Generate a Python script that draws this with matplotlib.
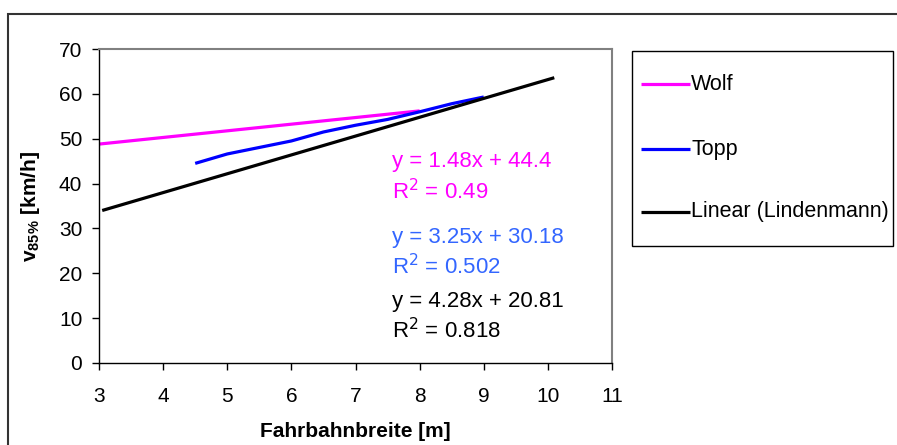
import matplotlib
matplotlib.use("Agg")
import matplotlib.pyplot as plt
from matplotlib.patches import Rectangle
from matplotlib.lines import Line2D

plt.rcParams['font.family'] = ['Liberation Sans', 'DejaVu Sans']

# data
wolf_x = [3.0, 8.0]
wolf_y = [48.8, 56.2]
topp_x = [4.5, 5.0, 6.0, 6.5, 7.0, 7.5, 8.0, 8.5, 9.0]
topp_y = [44.5, 46.6, 49.5, 51.5, 53.0, 54.3, 56.0, 57.8, 59.3]
lind_x = [3.05, 10.1]
lind_y = [34.0, 63.6]
labels = ["Wolf", "Topp", "Linear (Lindenmann)"]
line_colors = ["#FF00FF", "#0000FF", "black"]
eq_texts = [("y = 1.48x + 44.4", "R$^2$ = 0.49"),
            ("y = 3.25x + 30.18", "R$^2$ = 0.502"),
            ("y = 4.28x + 20.81", "R$^2$ = 0.818")]
eq_colors = ["#FF00FF", "#3366FF", "black"]

W, H = 897, 445
fig = plt.figure(figsize=(W / 100, H / 100), dpi=100)
ax = fig.add_axes([99 / W, 1 - 363 / H, (612 - 99) / W, (363 - 49) / H])

for xs, ys, c in zip([wolf_x, topp_x, lind_x], [wolf_y, topp_y, lind_y], line_colors):
    ax.plot(xs, ys, color=c, lw=2.3, solid_capstyle='butt')

ax.set_xlim(3, 11)
ax.set_ylim(0, 70)
ax.set_xticks(range(3, 12))
ax.set_yticks(range(0, 71, 10))
ax.tick_params(labelsize=15, length=5, width=1, direction='out')
ax.tick_params(axis='x', pad=12)
ax.tick_params(axis='y', pad=7)
for s in ['top', 'right']:
    ax.spines[s].set_color('#808080')
    ax.spines[s].set_linewidth(1.5)
for s in ['left', 'bottom']:
    ax.spines[s].set_color('black')
    ax.spines[s].set_linewidth(1)

ax.set_xlabel("Fahrbahnbreite [m]", fontsize=15, fontweight='bold', labelpad=12)
ax.set_ylabel(r"v$_{\mathregular{85\%}}$ [km/h]", fontsize=15, fontweight='bold', labelpad=12)

# equation labels
y_pos = [162, 192, 237, 267, 302, 331]
for i, (eq, r2) in enumerate(eq_texts):
    for j, t in enumerate((eq, r2)):
        fig.text(392 / W, 1 - y_pos[2 * i + j] / H, t, color=eq_colors[i],
                 fontsize=16, va='center', ha='left')

# legend box (drawn by hand to match the spacing)
fig.patches.append(Rectangle((632 / W, 1 - 246 / H), (893 - 632) / W, (246 - 51) / H,
                             transform=fig.transFigure, fill=False,
                             edgecolor='black', lw=1))
for k, (lab, c) in enumerate(zip(labels, line_colors)):
    yy = 1 - [84, 149, 212][k] / H
    fig.add_artist(Line2D([641 / W, 690 / W], [yy, yy], color=c, lw=2.3,
                          transform=fig.transFigure, solid_capstyle='butt'))
    fig.text(691 / W, yy, lab, fontsize=15.5, va='center', ha='left')

# outer chart border
fig.patches.append(Rectangle((8 / W, -0.05), 1.1, 1 - 14 / H + 0.05,
                             transform=fig.transFigure, fill=False,
                             edgecolor='#333333', lw=1.5, clip_on=False))

fig.savefig("out.png", dpi=100)
